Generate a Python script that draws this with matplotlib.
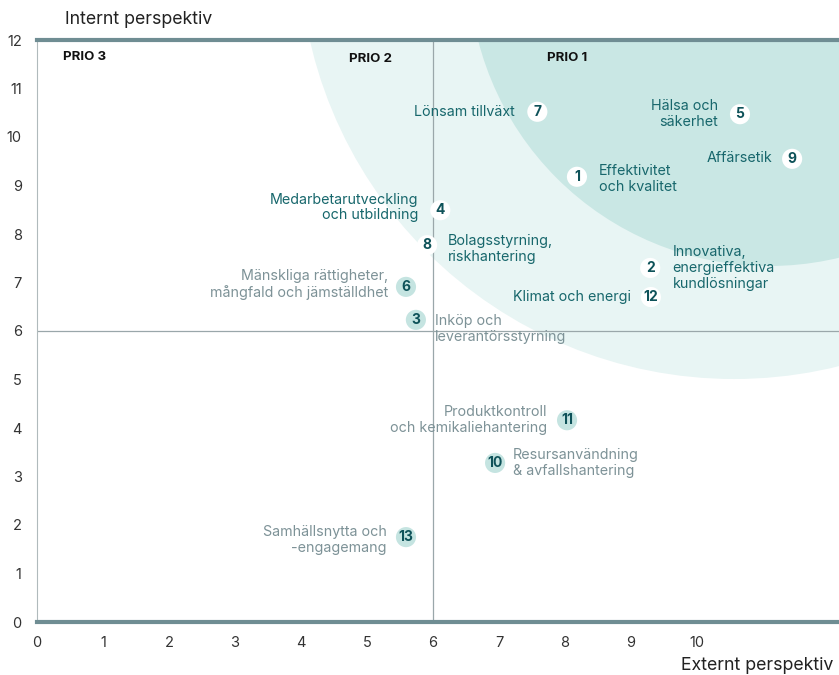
import matplotlib.pyplot as plt
from matplotlib.patches import Ellipse

plt.rcParams['font.family'] = ['Inter', 'DejaVu Sans']

# data
nums = [1, 2, 3, 4, 5, 6, 7, 8, 9, 10, 11, 12, 13]
ext = [8.18, 9.29, 5.74, 6.11, 10.65, 5.59, 7.58, 5.91, 11.44, 6.94, 8.03, 9.30, 5.59]
intern = [9.18, 7.30, 6.23, 8.49, 10.47, 6.91, 10.52, 7.77, 9.55, 3.28, 4.16, 6.70, 1.75]
labels = [
    "Effektivitet\noch kvalitet",
    "Innovativa,\nenergieffektiva\nkundlösningar",
    "Inköp och\nleverantörsstyrning",
    "Medarbetarutveckling\noch utbildning",
    "Hälsa och\nsäkerhet",
    "Mänskliga rättigheter,\nmångfald och jämställdhet",
    "Lönsam tillväxt",
    "Bolagsstyrning,\nriskhantering",
    "Affärsetik",
    "Resursanvändning\n& avfallshantering",
    "Produktkontroll\noch kemikaliehantering",
    "Klimat och energi",
    "Samhällsnytta och\n-engagemang",
]
prioritized = [True, True, False, True, True, False, True, True, True, False, False, True, False]
x_ticks = list(range(0, 11))
y_ticks = list(range(0, 13))

# label offsets in points (dx, dy), positive dy = up
offsets = {
    1: (16, -1.5), 2: (16, 0), 3: (14, -6.5), 4: (-16, 2), 5: (-16, 0),
    6: (-13, 1.5), 7: (-16.5, 0), 8: (15, -3), 9: (-14.5, 0.7), 10: (13, 0),
    11: (-14.5, 0), 12: (-14, 0), 13: (-14, -2),
}

TEAL = '#17676c'
GREY_TXT = '#7d9297'
NUM = '#0e5259'

fig = plt.figure(figsize=(8.39, 6.75), dpi=100)
ax = fig.add_axes([37 / 839, 53 / 675, 1 - 37 / 839, 582 / 675])
ax.set_xlim(0, 12.15)
ax.set_ylim(0, 12)

# bakgrundszoner
ax.add_patch(Ellipse((10.56, 13.98), 2 * 6.59, 2 * 8.97, color='#e8f5f4', zorder=0, lw=0))
ax.add_patch(Ellipse((11.09, 13.53), 2 * 4.55, 2 * 6.19, color='#c9e7e4', zorder=0.5, lw=0))

ax.axvline(6, color='#9aa7aa', lw=0.9, zorder=1)
ax.axhline(6, color='#9aa7aa', lw=0.9, zorder=1)

for n, x, y, lab, p in zip(nums, ext, intern, labels, prioritized):
    face = 'white' if p else '#c5e4e1'
    ax.scatter([x], [y], s=210, color=face, edgecolors='none', zorder=3)
    ax.text(x, y, str(n), ha='center', va='center', fontsize=10, fontweight='bold',
            color=NUM, zorder=4)
    dx, dy = offsets[n]
    ax.annotate(lab, (x, y), xytext=(dx, dy), textcoords='offset points',
                ha='left' if dx > 0 else 'right', va='center', fontsize=10.3,
                color=TEAL if p else GREY_TXT, linespacing=1.15, zorder=4)

ax.text(0.39, 11.65, "PRIO 3", fontsize=9.6, fontweight='bold', va='center', color='#111111')
ax.text(4.73, 11.6, "PRIO 2", fontsize=9.6, fontweight='bold', va='center', color='#111111')
ax.text(7.73, 11.62, "PRIO 1", fontsize=9.6, fontweight='bold', va='center', color='#111111')

ax.set_xticks(x_ticks)
ax.set_yticks(y_ticks)
ax.tick_params(length=0, labelsize=10.5, labelcolor='#333333')
ax.tick_params(axis='x', pad=10)
ax.tick_params(axis='y', pad=11)

for s in ['top', 'bottom']:
    ax.spines[s].set_color('#6f8d93')
    ax.spines[s].set_linewidth(3)
ax.spines['left'].set_color('#b0babc')
ax.spines['left'].set_linewidth(0.8)
ax.spines['right'].set_visible(False)

fig.text(65 / 839, 1 - 20 / 675, "Internt perspektiv", fontsize=12.8, va='center', color='#222222')
fig.text(833 / 839, 1 - 665 / 675, "Externt perspektiv", fontsize=12.8, va='center', ha='right',
         color='#222222')

fig.savefig('out.png', dpi=100)
